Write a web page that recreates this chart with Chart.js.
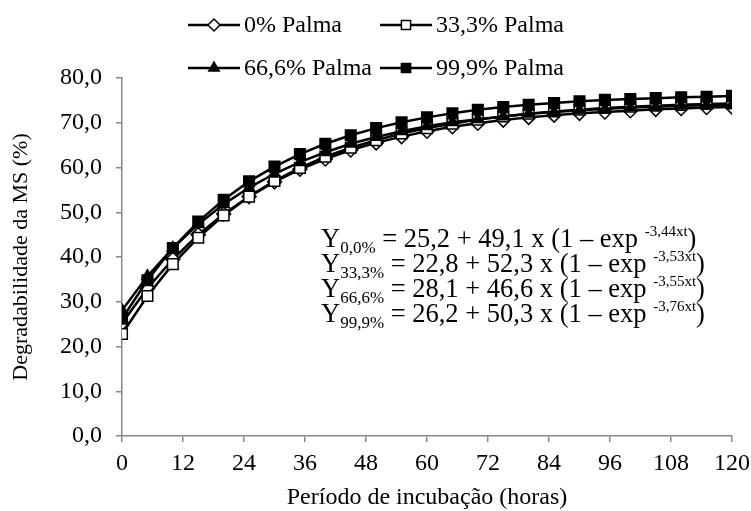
<!DOCTYPE html>
<html>
<head>
<meta charset="utf-8">
<script src="https://cdn.jsdelivr.net/npm/chart.js@4.4.1/dist/chart.umd.min.js"></script>
<style>
  html, body { margin: 0; padding: 0; background: #fff; }
  #wrap { width: 751px; height: 511px; }
</style>
</head>
<body>
<div id="wrap"><canvas id="chart" width="751" height="511"></canvas></div>
<script>
// incubation times (h)
const hours = [0, 5, 10, 15, 20, 25, 30, 35, 40, 45, 50, 55, 60, 65, 70, 75, 80, 85, 90, 95, 100, 105, 110, 115, 120];

// DM degradability (%)
const palma0  = [25.2, 33.0, 39.5, 45.0, 49.6, 53.5, 56.8, 59.6, 61.9, 63.9, 65.5, 66.9, 68.1, 69.1, 69.9, 70.6, 71.2, 71.7, 72.1, 72.4, 72.7, 73.0, 73.2, 73.4, 73.5];
const palma33 = [22.8, 31.3, 38.4, 44.3, 49.3, 53.5, 57.0, 59.9, 62.4, 64.4, 66.1, 67.6, 68.8, 69.8, 70.7, 71.4, 72.0, 72.5, 72.9, 73.3, 73.6, 73.8, 74.0, 74.2, 74.3];
const palma66 = [28.1, 35.7, 42.0, 47.3, 51.8, 55.5, 58.6, 61.2, 63.4, 65.3, 66.8, 68.1, 69.2, 70.1, 70.8, 71.4, 72.0, 72.4, 72.8, 73.1, 73.4, 73.6, 73.8, 73.9, 74.0];
const palma99 = [26.2, 34.8, 42.0, 47.9, 52.8, 56.9, 60.2, 63.0, 65.3, 67.2, 68.8, 70.1, 71.2, 72.1, 72.9, 73.5, 74.0, 74.4, 74.8, 75.1, 75.3, 75.5, 75.7, 75.8, 76.0];

const seriesNames = ['0% Palma', '33,3% Palma', '66,6% Palma', '99,9% Palma'];

// regression equations shown in the plot
const eqSubs = ['0,0%', '33,3%', '66,6%', '99,9%'];
const eqA = ['25,2', '22,8', '28,1', '26,2'];
const eqB = ['49,1', '52,3', '46,6', '50,3'];
const eqK = ['-3,44xt', '-3,53xt', '-3,55xt', '-3,76xt'];

const SERIF = '"Liberation Serif", "Times New Roman", serif';
const AXIS_GRAY = '#878787';

const styles = [
  { pointStyle: 'rectRot', fill: '#ffffff', radius: 7, legendRadius: 6 },
  { pointStyle: 'rect', fill: '#ffffff', radius: 7.5, legendRadius: 6.5 },
  { pointStyle: 'triangle', fill: '#000000', radius: 6.5, legendRadius: 6 },
  { pointStyle: 'rect', fill: '#000000', radius: 7.5, legendRadius: 6.5 }
];

function toPoints(ys) {
  return hours.map((h, i) => ({ x: h, y: ys[i] }));
}

const allSeries = [palma0, palma33, palma66, palma99];
const datasets = allSeries.map((ys, i) => ({
  label: seriesNames[i],
  data: toPoints(ys),
  borderColor: '#000',
  borderWidth: 2.5,
  backgroundColor: styles[i].fill,
  pointStyle: styles[i].pointStyle,
  pointRadius: styles[i].radius,
  pointHoverRadius: styles[i].radius,
  pointBackgroundColor: styles[i].fill,
  pointBorderColor: '#000',
  pointBorderWidth: 1.5,
  tension: 0,
  order: 4 - i
}));

// legend: two rows, drawn by hand to match the original layout
const legendPlugin = {
  id: 'palmaLegend',
  afterDraw(chart) {
    const ctx = chart.ctx;
    const slots = [[188, 25], [380, 25], [188, 68], [380, 68]];
    ctx.save();
    seriesNames.forEach((name, i) => {
      const [x, y] = slots[i];
      ctx.strokeStyle = '#000';
      ctx.lineWidth = 2.5;
      ctx.beginPath();
      ctx.moveTo(x, y);
      ctx.lineTo(x + 52, y);
      ctx.stroke();
      ctx.fillStyle = styles[i].fill;
      ctx.lineWidth = 1.5;
      Chart.helpers.drawPoint(ctx, {
        pointStyle: styles[i].pointStyle,
        radius: styles[i].legendRadius,
        borderWidth: 1.5,
        rotation: 0
      }, x + 26, y);
      ctx.fillStyle = '#000';
      ctx.font = '24px ' + SERIF;
      ctx.textBaseline = 'middle';
      ctx.textAlign = 'left';
      ctx.fillText(name, x + 56, y + 1);
    });
    ctx.restore();
  }
};

// equations with sub/superscripts
const equationPlugin = {
  id: 'equations',
  afterDraw(chart) {
    const ctx = chart.ctx;
    const main = '26.5px ' + SERIF;
    const sub = '17px ' + SERIF;
    const sup = '15px ' + SERIF;
    ctx.save();
    ctx.fillStyle = '#000';
    ctx.textBaseline = 'alphabetic';
    ctx.textAlign = 'left';
    eqSubs.forEach((s, i) => {
      let x = 321;
      const y = 247 + i * 25;
      const put = (txt, font, dy) => {
        ctx.font = font;
        ctx.fillText(txt, x, y + dy);
        x += ctx.measureText(txt).width;
      };
      put('Y', main, 0);
      put(s, sub, 6);
      put(' = ' + eqA[i] + ' + ' + eqB[i] + ' x (1 \u2013 exp ', main, 0);
      put(eqK[i], sup, -11);
      put(')', main, 0);
    });
    ctx.restore();
  }
};

const fmt = v => v.toFixed(1).replace('.', ',');

new Chart(document.getElementById('chart'), {
  type: 'line',
  data: { datasets },
  options: {
    responsive: false,
    animation: false,
    events: [],
    layout: { padding: { top: 78, right: 19, left: 0, bottom: 0 } },
    plugins: {
      legend: { display: false },
      tooltip: { enabled: false }
    },
    scales: {
      x: {
        type: 'linear',
        min: 0,
        max: 120,
        afterFit(scale) {
          scale.height = 75;
          scale.paddingLeft = 0;
          scale.paddingRight = 0;
        },
        ticks: {
          stepSize: 12,
          color: '#000',
          font: { family: SERIF, size: 24, lineHeight: 1 },
          padding: 10,
          maxRotation: 0
        },
        grid: {
          drawOnChartArea: false,
          drawTicks: true,
          tickLength: 6,
          color: AXIS_GRAY,
          lineWidth: 1.5
        },
        border: { color: AXIS_GRAY, width: 1.5 },
        title: {
          display: true,
          text: 'Período de incubação (horas)',
          color: '#000',
          font: { family: SERIF, size: 24, lineHeight: 1 },
          padding: { top: 0, bottom: 1 }
        }
      },
      y: {
        min: 0,
        max: 80,
        afterFit(scale) {
          scale.width = 122;
          scale.paddingTop = 0;
          scale.paddingBottom = 0;
        },
        ticks: {
          stepSize: 10,
          color: '#000',
          font: { family: SERIF, size: 24, lineHeight: 1 },
          padding: 14,
          callback: v => fmt(v)
        },
        grid: {
          drawOnChartArea: false,
          drawTicks: true,
          tickLength: 6,
          color: AXIS_GRAY,
          lineWidth: 1.5
        },
        border: { color: AXIS_GRAY, width: 1.5 },
        title: {
          display: true,
          text: 'Degradabilidade da MS (%)',
          color: '#000',
          font: { family: SERIF, size: 22, lineHeight: 1 },
          padding: { top: 10, bottom: 0 }
        }
      }
    }
  },
  plugins: [legendPlugin, equationPlugin]
});
</script>
</body>
</html>
